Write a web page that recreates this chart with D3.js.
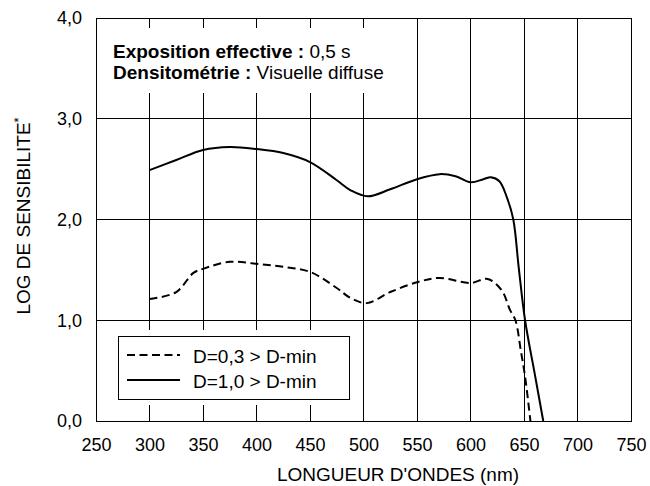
<!DOCTYPE html>
<html>
<head>
<meta charset="utf-8">
<script src="https://cdn.jsdelivr.net/npm/d3@7"></script>
<style>
  body { margin: 0; background: #fff; }
  svg { display: block; font-family: "Liberation Sans", Arial, sans-serif; }
</style>
</head>
<body>
<div id="chart"></div>
<script>
// D=1,0 > D-min (solid)
var waveSolid = [300, 325, 350, 375, 400, 425, 450, 475, 488, 504, 525, 550, 571, 586, 600, 612, 619, 627, 634, 640, 645, 651, 660, 668];
var sensSolid = [2.49, 2.59, 2.69, 2.72, 2.70, 2.66, 2.57, 2.39, 2.29, 2.23, 2.30, 2.40, 2.45, 2.43, 2.37, 2.40, 2.42, 2.38, 2.22, 2.00, 1.53, 1.00, 0.47, 0.00];
// D=0,3 > D-min (dashed)
var waveDashed = [300, 325, 341, 350, 375, 400, 425, 450, 475, 488, 503, 525, 551, 571, 600, 616, 629, 637, 642, 647, 651, 656];
var sensDashed = [1.21, 1.28, 1.47, 1.51, 1.58, 1.56, 1.53, 1.48, 1.32, 1.22, 1.17, 1.28, 1.38, 1.42, 1.37, 1.41, 1.30, 1.10, 1.00, 0.70, 0.44, 0.00];

var xTicks = [250, 300, 350, 400, 450, 500, 550, 600, 650, 700, 750];
var yTicks = [0, 1, 2, 3, 4];
var legendLabels = ["D=0,3 > D-min", "D=1,0 > D-min"];

var width = 650, height = 486,
    plotLeft = 96, plotRight = 631, plotTop = 18, plotBottom = 421;

var svg = d3.select("#chart")
            .append("svg")
              .attr("width", width)
              .attr("height", height);

var x = d3.scaleLinear().domain([250, 750]).range([plotLeft, plotRight]);
var y = d3.scaleLinear().domain([0, 4]).range([plotBottom, plotTop]);

var fmt = function(d){ return d3.format(".1f")(d).replace(".", ","); };

// grid
var grid = svg.append("g")
    .attr("stroke", "#000")
    .attr("stroke-width", 1)
    .attr("shape-rendering", "crispEdges");

grid.selectAll("line.v")
    .data(xTicks.slice(1, -1))
    .enter().append("line")
      .attr("x1", function(d){ return x(d); })
      .attr("x2", function(d){ return x(d); })
      .attr("y1", plotTop)
      .attr("y2", plotBottom);

grid.selectAll("line.h")
    .data(yTicks.slice(1, -1))
    .enter().append("line")
      .attr("x1", plotLeft)
      .attr("x2", plotRight)
      .attr("y1", function(d){ return y(d); })
      .attr("y2", function(d){ return y(d); });

// white panels that hide the grid behind the notes and legend
svg.append("rect")
    .attr("x", 100).attr("y", 28)
    .attr("width", 290).attr("height", 65)
    .attr("fill", "#fff");

svg.append("rect")
    .attr("x", 100).attr("y", 330)
    .attr("width", 256).attr("height", 75)
    .attr("fill", "#fff");

// frame
svg.append("rect")
    .attr("x", plotLeft).attr("y", plotTop)
    .attr("width", plotRight - plotLeft).attr("height", plotBottom - plotTop)
    .attr("fill", "none")
    .attr("stroke", "#000")
    .attr("shape-rendering", "crispEdges");

// axes
var xAxis = d3.axisBottom(x).tickValues(xTicks).tickSize(0).tickPadding(17);
svg.append("g")
    .attr("transform", "translate(0," + plotBottom + ")")
    .call(xAxis)
    .call(function(g){ g.select(".domain").remove(); })
    .selectAll("text")
      .style("font-size", "18px")
      .style("font-family", "Liberation Sans, Arial, sans-serif")
      .attr("fill", "#000");

var yAxis = d3.axisLeft(y).tickValues(yTicks).tickFormat(fmt).tickSize(0).tickPadding(14);
svg.append("g")
    .attr("transform", "translate(" + plotLeft + ",0)")
    .call(yAxis)
    .call(function(g){ g.select(".domain").remove(); })
    .selectAll("text")
      .style("font-size", "18px")
      .style("font-family", "Liberation Sans, Arial, sans-serif")
      .attr("fill", "#000");

// axis titles
svg.append("text")
    .attr("x", 398)
    .attr("y", 481)
    .attr("text-anchor", "middle")
    .style("font-size", "19px")
    .text("LONGUEUR D'ONDES (nm)");

var yt = svg.append("text")
    .attr("transform", "translate(30,216) rotate(-90)")
    .attr("text-anchor", "middle")
    .style("font-size", "19px");
yt.append("tspan").text("LOG DE SENSIBILITE");
yt.append("tspan").attr("dy", -7).style("font-size", "13px").text("*");

// curves
var line = d3.line()
    .x(function(d){ return x(d[0]); })
    .y(function(d){ return y(d[1]); })
    .curve(d3.curveCatmullRom.alpha(0.5));

svg.append("path")
    .datum(d3.zip(waveDashed, sensDashed))
    .attr("d", line)
    .attr("fill", "none")
    .attr("stroke", "#000")
    .attr("stroke-width", 2)
    .attr("stroke-dasharray", "8,4.5");

svg.append("path")
    .datum(d3.zip(waveSolid, sensSolid))
    .attr("d", line)
    .attr("fill", "none")
    .attr("stroke", "#000")
    .attr("stroke-width", 2);

// notes
var note = svg.append("g").style("font-size", "19px");
var n1 = note.append("text").attr("x", 113).attr("y", 58);
n1.append("tspan").style("font-weight", "bold").text("Exposition effective : ");
n1.append("tspan").text("0,5 s");
var n2 = note.append("text").attr("x", 113).attr("y", 79);
n2.append("tspan").style("font-weight", "bold").text("Densitométrie : ");
n2.append("tspan").text("Visuelle diffuse");

// legend
var legend = svg.append("g");
legend.append("rect")
    .attr("x", 118).attr("y", 336)
    .attr("width", 231).attr("height", 63)
    .attr("fill", "#fff")
    .attr("stroke", "#000")
    .attr("shape-rendering", "crispEdges");

var rows = legend.selectAll("g.row")
    .data(legendLabels)
    .enter().append("g")
      .attr("transform", function(d, i){ return "translate(0," + (355 + i * 25) + ")"; });

rows.append("line")
    .attr("x1", 127).attr("x2", 180)
    .attr("y1", 0).attr("y2", 0)
    .attr("stroke", "#000")
    .attr("stroke-width", 2)
    .attr("stroke-dasharray", function(d, i){ return i == 0 ? "8,4.5" : null; });

rows.append("text")
    .attr("x", 193)
    .attr("y", 8)
    .style("font-size", "19px")
    .text(function(d){ return d; });
</script>
</body>
</html>
